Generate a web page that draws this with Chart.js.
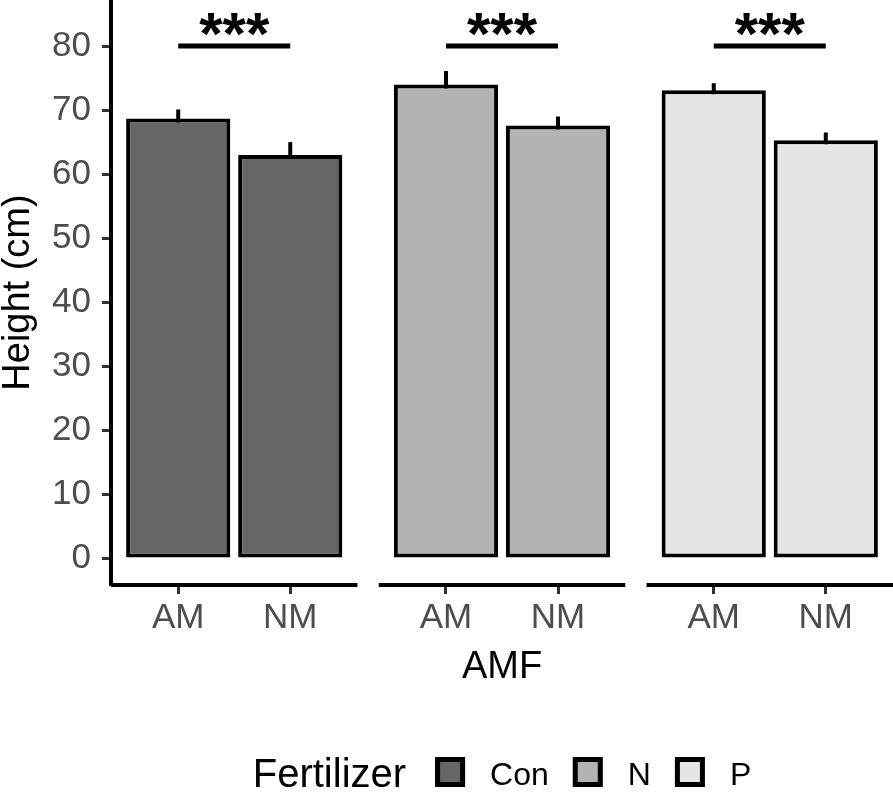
<!DOCTYPE html>
<html>
<head>
<meta charset="utf-8">
<script src="https://cdn.jsdelivr.net/npm/chart.js@4"></script>
<style>
  html, body { margin: 0; padding: 0; background: #fff; }
  #wrap { width: 893px; height: 796px; }
</style>
</head>
<body>
<div id="wrap"><canvas id="heightChart"></canvas></div>
<script>
// Plant height by fertilizer (facets) and AMF inoculation
const fertilizers = ['Con', 'N', 'P'];
const amfLevels = ['AM', 'NM'];
const heightMeans = [
  [68.7, 63.0],  // Con
  [74.0, 67.6],  // N
  [73.1, 65.3]   // P
];
const heightSE = [
  [1.4, 2.0],
  [2.1, 1.4],
  [1.1, 1.2]
];
const sigLabels = ['***', '***', '***'];
const sigHeight = 80;
const yTicks = [0, 10, 20, 30, 40, 50, 60, 70, 80];

const fills = ['#666666', '#b3b3b3', '#e5e5e5'];
const FONT = '"Liberation Sans", Arial, Helvetica, sans-serif';
const PANEL_W = amfLevels.length + 0.2;   // ggplot discrete expansion (0.6 each side)
const PANEL_GAP = 0.19;                   // space between facets, x units

function xPos(f, c) { return f * (PANEL_W + PANEL_GAP) + c + 1; }

const tickPositions = [];
fertilizers.forEach((_, f) => amfLevels.forEach((_, c) => tickPositions.push(xPos(f, c))));

const datasets = fertilizers.map((name, f) => ({
  label: name,
  data: amfLevels.map((a, c) => ({ x: xPos(f, c), y: heightMeans[f][c] })),
  backgroundColor: fills[f],
  borderColor: '#000',
  borderWidth: 4,
  borderSkipped: false,
  barPercentage: 0.93,
  categoryPercentage: 1,
  grouped: false
}));

const facetPlugin = {
  id: 'facets',
  beforeDatasetsDraw(chart) {
    // error bars (upper half shows above the bar)
    const { ctx, scales: { x, y } } = chart;
    ctx.save();
    ctx.strokeStyle = '#000';
    ctx.lineWidth = 4;
    heightMeans.forEach((row, f) => row.forEach((m, c) => {
      const px = x.getPixelForValue(xPos(f, c));
      ctx.beginPath();
      ctx.moveTo(px, y.getPixelForValue(m - heightSE[f][c]));
      ctx.lineTo(px, y.getPixelForValue(m + heightSE[f][c]));
      ctx.stroke();
    }));
    ctx.restore();
  },
  afterDraw(chart) {
    const { ctx, chartArea, scales: { x, y } } = chart;
    ctx.save();
    // broken x axis line, one per facet
    ctx.strokeStyle = '#000';
    ctx.lineWidth = 4;
    fertilizers.forEach((_, f) => {
      const x0 = x.getPixelForValue(xPos(f, 0) - 0.6);
      const x1 = x.getPixelForValue(xPos(f, amfLevels.length - 1) + 0.6);
      ctx.beginPath();
      ctx.moveTo(x0, chartArea.bottom);
      ctx.lineTo(x1, chartArea.bottom);
      ctx.stroke();
    });

    // significance brackets
    const ly = y.getPixelForValue(sigHeight);
    sigLabels.forEach((lab, f) => {
      const a = x.getPixelForValue(xPos(f, 0));
      const b = x.getPixelForValue(xPos(f, 1));
      ctx.lineWidth = 5;
      ctx.beginPath();
      ctx.moveTo(a, ly);
      ctx.lineTo(b, ly);
      ctx.stroke();
      ctx.fillStyle = '#000';
      ctx.font = 'bold 60px ' + FONT;
      ctx.textAlign = 'center';
      ctx.textBaseline = 'alphabetic';
      ctx.fillText(lab, (a + b) / 2, ly + 8);
    });

    // legend: "Fertilizer" + keys
    const lgY = 772, box = 30;
    ctx.font = '40px ' + FONT;
    const titleW = ctx.measureText('Fertilizer').width;
    ctx.font = '32px ' + FONT;
    const labW = fertilizers.map(t => ctx.measureText(t).width);
    let total = titleW;
    labW.forEach((w, i) => { total += (i === 0 ? 29 : 24) + box + 25 + w; });
    let cx = (chartArea.left + chartArea.right) / 2 - total / 2;
    ctx.textAlign = 'left';
    ctx.fillStyle = '#000';
    ctx.font = '40px ' + FONT;
    ctx.fillText('Fertilizer', cx, lgY + 15);
    cx += titleW;
    fertilizers.forEach((t, i) => {
      cx += (i === 0 ? 29 : 24);
      ctx.fillStyle = fills[i];
      ctx.fillRect(cx, lgY - box / 2, box, box);
      ctx.lineWidth = 5;
      ctx.strokeStyle = '#000';
      ctx.strokeRect(cx + 2.5, lgY - box / 2 + 2.5, box - 5, box - 5);
      cx += box + 25;
      ctx.fillStyle = '#000';
      ctx.font = '32px ' + FONT;
      ctx.fillText(t, cx, lgY + 13);
      cx += labW[i];
    });
    ctx.restore();
  }
};

new Chart(document.getElementById('heightChart'), {
  type: 'bar',
  data: { datasets },
  options: {
    responsive: true,
    maintainAspectRatio: false,
    animation: false,
    layout: { padding: { left: 0, right: 0, top: 0, bottom: 106 } },
    plugins: { legend: { display: false }, tooltip: { enabled: false } },
    scales: {
      x: {
        type: 'linear',
        offset: false,
        min: xPos(0, 0) - 0.6,
        max: xPos(fertilizers.length - 1, amfLevels.length - 1) + 0.6,
        afterBuildTicks: s => { s.ticks = tickPositions.map(v => ({ value: v })); },
        afterFit: s => { s.height = 105; s.paddingLeft = 0; s.paddingRight = 0; },
        grid: { display: true, offset: false, drawOnChartArea: false, drawTicks: true,
                tickLength: 9, tickWidth: 3, tickColor: '#333333' },
        border: { display: false },
        ticks: {
          autoSkip: false, maxRotation: 0, padding: 3,
          color: '#4d4d4d', font: { family: FONT, size: 35 },
          callback: (v, i) => amfLevels[i % amfLevels.length]
        },
        title: { display: true, text: 'AMF', color: '#000',
                 font: { family: FONT, size: 38 }, padding: { top: 0, bottom: 0 } }
      },
      y: {
        min: -4.2,
        max: 87.2,
        afterBuildTicks: s => { s.ticks = yTicks.map(v => ({ value: v })); },
        afterFit: s => { s.width = 111; s.paddingTop = 0; s.paddingBottom = 0; },
        grid: { display: true, drawOnChartArea: false, drawTicks: true,
                tickLength: 9, tickWidth: 3, tickColor: '#333333' },
        border: { display: true, color: '#000', width: 4 },
        ticks: { padding: 11, color: '#4d4d4d', font: { family: FONT, size: 35 } },
        title: { display: true, text: 'Height (cm)', color: '#000',
                 font: { family: FONT, size: 38, lineHeight: 1 }, padding: { top: 0, bottom: 0 } }
      }
    }
  },
  plugins: [facetPlugin]
});
</script>
</body>
</html>
